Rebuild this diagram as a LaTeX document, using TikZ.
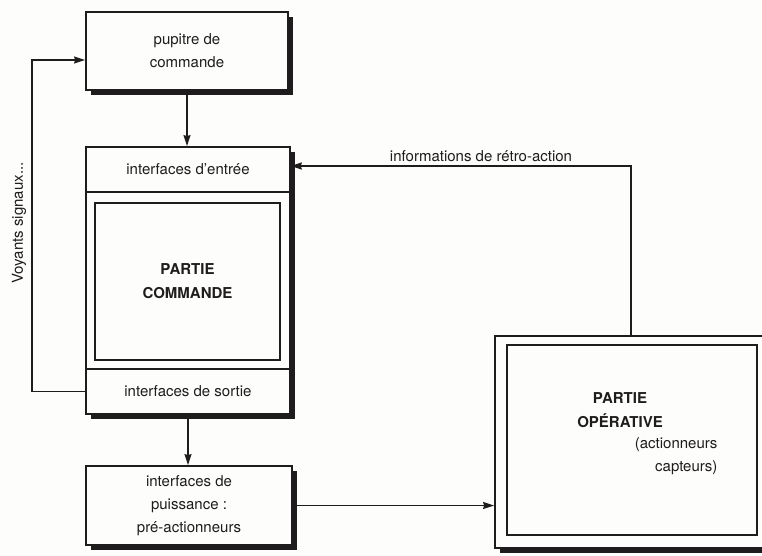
\documentclass[tikz,border=0pt]{standalone}
\usepackage{fontspec}
\setmainfont{TeX Gyre Heros}
\usepackage{tikz}
\usetikzlibrary{positioning,shadows,arrows.meta}
\definecolor{Ink}{RGB}{30, 28, 28}
\definecolor{Paper}{RGB}{253, 253, 251}

\begin{document}
\begin{tikzpicture}[
    x=1pt, y=-1pt,
    box/.style={rectangle, draw=Ink, fill=Paper, line width=1.8pt, align=center,
                general shadow={fill=Ink, shadow xshift=5pt, shadow yshift=-5pt}},
    part/.style={rectangle, draw=Ink, fill=Paper, line width=1.6pt, align=center},
    inner/.style={rectangle, draw=Ink, line width=2.2pt, align=center},
    lbl/.style={font=\fontsize{15}{23}\selectfont, text=Ink, align=center},
    title/.style={font=\fontsize{15}{24}\selectfont\bfseries, text=Ink, align=center},
    arr/.style={-{Stealth[length=11pt,width=7pt,inset=1pt]}, line width=1.6pt, Ink},
]
\useasboundingbox[fill=Paper] (0,0) rectangle (762,556);
\clip (0,0) rectangle (762,556);

% blocs de gauche
\node[box, lbl, minimum width=202pt, minimum height=78pt] (pup) at (187,51) {pupitre de\\commande};
\node[box, minimum width=204pt, minimum height=267pt] (cmd) at (188,280.5) {};
\node[part, lbl, minimum width=204pt, minimum height=45pt, anchor=north] (ent) at (cmd.north) {interfaces d'entrée};
\node[part, lbl, minimum width=204pt, minimum height=45pt, anchor=south] (sor) at (cmd.south) {interfaces de sortie};
\node[inner, title, minimum width=185pt, minimum height=157pt] (pc) at (187.5,281.5) {PARTIE\\COMMANDE};
\node[box, lbl, minimum width=206pt, minimum height=79pt] (pui) at (189,505.5) {interfaces de\\puissance :\\pré-actionneurs};

% partie operative
\node[box, minimum width=277pt, minimum height=212pt] (op) at (633.5,442) {};
\node[inner, minimum width=250pt, minimum height=190pt] (opi) at (632,440) {};
\node[title] (opt) at (620,410.5) {PARTIE\\OPÉRATIVE};
\node[lbl, align=right, anchor=east] (opc) at (721,456) {(actionneurs\\capteurs)};

% liaisons
\coordinate (fb) at (631,166);
\coordinate (vy) at (32,60);
\draw[arr] (pup.south) -- (pup.south |- cmd.north);
\draw[arr] (cmd.south) -- (cmd.south |- pui.north);
\draw[arr] (pui.east) -- (pui.east -| op.west);
\draw[arr] (op.north -| fb) -- (fb) -- (fb -| ent.east);
\draw[arr] (sor.west) -| (vy) -- (vy -| pup.west);

\node[lbl, above=1pt] (retro) at (481,166) {informations de rétro-action};
\node[lbl, rotate=90] (voy) at (19,223) {Voyants signaux...};
\end{tikzpicture}
\end{document}
